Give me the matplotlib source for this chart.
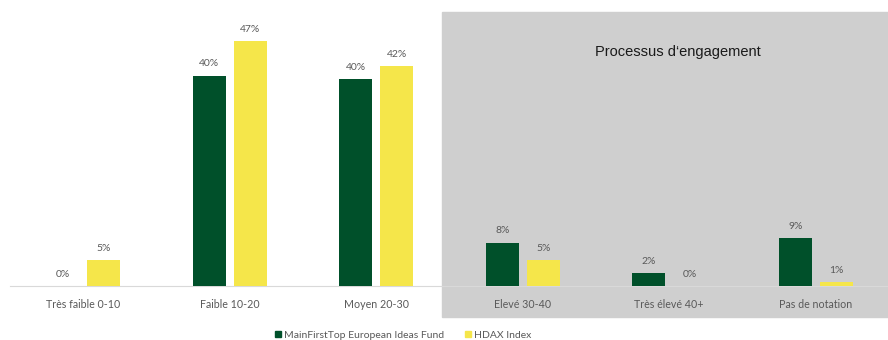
import matplotlib.pyplot as plt
from matplotlib.patches import Rectangle, Patch
import numpy as np

categories = ["Très faible 0-10", "Faible 10-20", "Moyen 20-30",
              "Elevé 30-40", "Très élevé 40+", "Pas de notation"]
fund = [0.0, 40.4, 39.7, 8.3, 2.5, 9.2]
fund_labels = ["0%", "40%", "40%", "8%", "2%", "9%"]
index = [5.0, 47.0, 42.2, 5.0, 0.0, 0.8]
index_labels = ["5%", "47%", "42%", "5%", "0%", "1%"]
series_names = ["MainFirstTop European Ideas Fund", "HDAX Index"]

green = "#00502a"
yellow = "#f5e64a"
label_grey = "#595959"
small_font = ["Lato", "DejaVu Sans"]

W, H = 888, 340
fig = plt.figure(figsize=(W / 100, H / 100), dpi=100)

# grey background behind the engagement categories
fig.patches.append(Rectangle((442 / W, (H - 317) / H), (W - 442) / W, (317 - 12) / H,
                             transform=fig.transFigure, color="#cfcfcf", zorder=0))

ax = fig.add_axes([10 / W, (H - 286) / H, 879 / W, 274 / H])
ax.set_zorder(2)
ax.patch.set_alpha(0)

x = np.arange(len(categories))
w = 0.225
off = 0.14
ax.bar(x - off, fund, w, color=green, zorder=3)
ax.bar(x + off, index, w, color=yellow, zorder=3)

for i in range(len(categories)):
    ax.text(x[i] - off, fund[i] + 1.4, fund_labels[i], ha="center", va="bottom",
            fontsize=7.5, color=label_grey, family=small_font)
    ax.text(x[i] + off, index[i] + 1.4, index_labels[i], ha="center", va="bottom",
            fontsize=7.5, color=label_grey, family=small_font)

ax.set_xlim(-0.5, len(categories) - 0.5)
ax.set_ylim(0, 274 / 5.21)
ax.set_xticks(x)
ax.set_xticklabels(categories, fontsize=7.7, color=label_grey, family=small_font)
ax.tick_params(axis="x", length=0, pad=9)
ax.set_yticks([])
for s in ["top", "left", "right"]:
    ax.spines[s].set_visible(False)
ax.spines["bottom"].set_color("#d9d9d9")

fig.text(678 / W, 1 - 52 / H, "Processus d‘engagement", ha="center", va="center",
         fontsize=10.5, color="#1a1a1a", family=["Liberation Sans", "DejaVu Sans"])

handles = [Patch(color=green), Patch(color=yellow)]
fig.legend(handles, series_names, loc="center", bbox_to_anchor=(403 / W, 5 / H),
           ncol=2, frameon=False, prop={"family": small_font, "size": 7.5},
           handlelength=0.6, handleheight=0.6, handletextpad=0.3, columnspacing=2.0,
           labelcolor=label_grey)

fig.savefig("out.png", dpi=100)
